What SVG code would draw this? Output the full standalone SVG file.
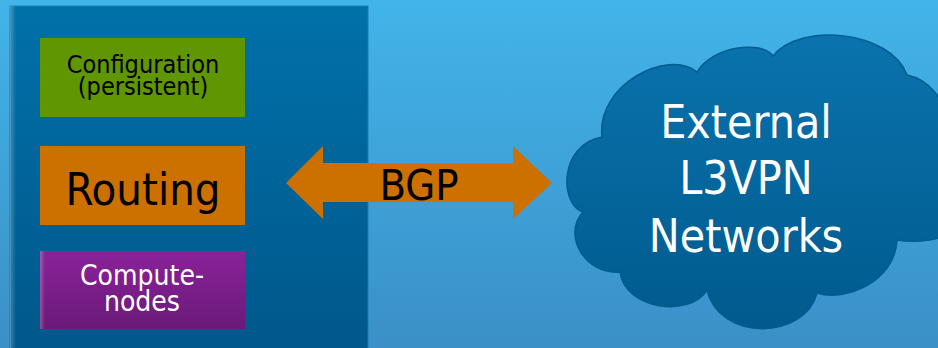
<svg xmlns="http://www.w3.org/2000/svg" width="938" height="348" viewBox="0 0 938 348">
  <defs>
    <linearGradient id="bg" x1="0" y1="0" x2="0" y2="1">
      <stop offset="0" stop-color="#42b4e9"/>
      <stop offset="1" stop-color="#3a90c7"/>
    </linearGradient>
    <linearGradient id="panel" x1="0" y1="0" x2="0" y2="1">
      <stop offset="0" stop-color="#0071a9"/>
      <stop offset="1" stop-color="#00578a"/>
    </linearGradient>
    <linearGradient id="cloudg" x1="0" y1="0" x2="0" y2="1">
      <stop offset="0" stop-color="#0a73ad"/>
      <stop offset="1" stop-color="#005a8d"/>
    </linearGradient>
    <linearGradient id="purple" x1="0" y1="0" x2="0" y2="1">
      <stop offset="0" stop-color="#8a229a"/>
      <stop offset="1" stop-color="#6a1a78"/>
    </linearGradient>
    <linearGradient id="edge" x1="0" y1="0" x2="1" y2="0">
      <stop offset="0" stop-color="#ffffff" stop-opacity="0.25"/>
      <stop offset="1" stop-color="#ffffff" stop-opacity="0"/>
    </linearGradient>
  </defs>
  <style>
    text { font-family: "DejaVu Sans Condensed", "DejaVu Sans", "Open Sans", sans-serif; font-stretch: condensed; text-anchor: middle; }
    .dark { fill: #000000; }
    .light { fill: #ffffff; }
  </style>
  <rect width="938" height="348" fill="url(#bg)"/>

  <g id="system">
    <rect x="10" y="6" width="358" height="350" fill="url(#panel)" stroke="#1a7fb5" stroke-width="1"/>
    <rect x="10" y="6" width="6" height="350" fill="url(#edge)"/>
  </g>

  <g id="configuration">
    <rect x="40" y="38" width="205" height="79" fill="#5f9601"/>
    <text class="dark" x="143" y="73" font-size="25">Configuration</text>
    <text class="dark" x="143" y="95" font-size="25">(persistent)</text>
  </g>

  <g id="routing">
    <rect x="40" y="146" width="205" height="79" fill="#cc7000"/>
    <text class="dark" x="143" y="205" font-size="45">Routing</text>
  </g>

  <g id="compute-nodes">
    <rect x="40" y="251" width="205" height="78" fill="url(#purple)"/>
    <rect x="40" y="251" width="5" height="78" fill="url(#edge)"/>
    <text class="light" x="142" y="285" font-size="28">Compute-</text>
    <text class="light" x="142" y="311" font-size="28">nodes</text>
  </g>

  <g id="connectors">
    <polygon points="286,183 323,146 323,163 513,163 513,146 552,183 513,219 513,202 323,202 323,219" fill="#cc7000"/>
    <text class="dark" x="419" y="200" font-size="43">BGP</text>
  </g>

  <g id="external-networks">
    <path d="M 583 212 C 560 205 558 145 602 137 C 596 85 668 48 697 72 C 712 46 762 40 773 56 C 800 22 890 30 907 75 C 930 80 945 100 945 120 L 945 236 C 930 242 910 242 897 240 C 895 282 845 302 817 293 C 805 340 720 342 707 290 C 690 318 625 310 620 272 C 585 275 562 235 583 212 Z" fill="url(#cloudg)" stroke="#005c8e" stroke-width="1.5"/>
    <text class="light" x="746" y="138" font-size="46">External</text>
    <text class="light" x="746" y="194" font-size="46">L3VPN</text>
    <text class="light" x="746" y="252" font-size="46">Networks</text>
  </g>
</svg>
